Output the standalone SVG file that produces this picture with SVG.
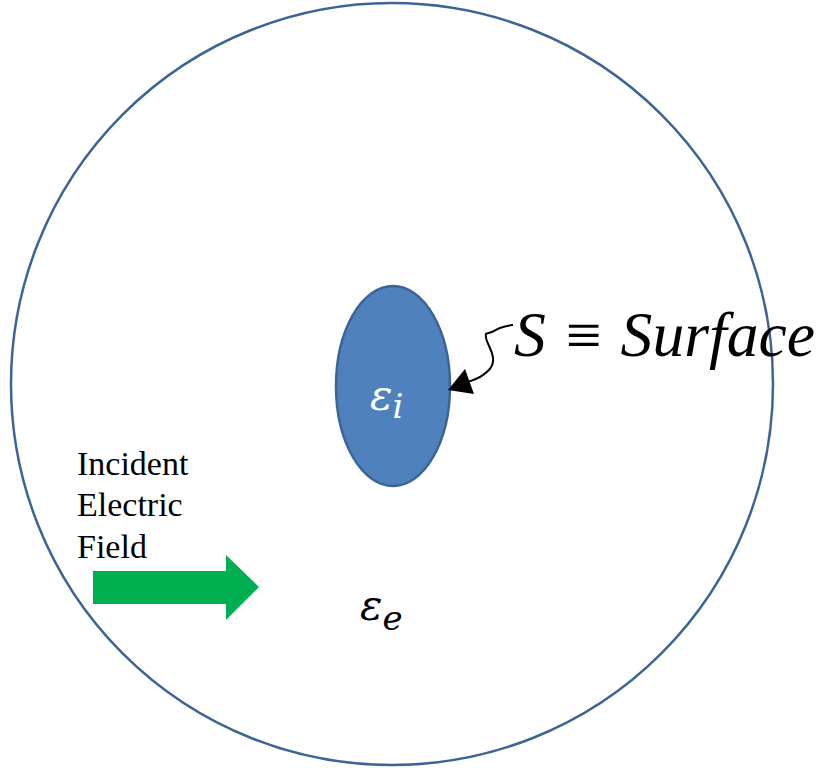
<svg xmlns="http://www.w3.org/2000/svg" width="823" height="769" viewBox="0 0 823 769">
<style>
.serif{font-family:"Liberation Serif","Times New Roman",serif;fill:#000}
.math{font-family:"DejaVu Serif","Liberation Serif",serif;font-style:italic}
</style>
<rect width="823" height="769" fill="#fff"/>
<g id="outer">
<circle cx="392" cy="384" r="381" fill="none" stroke="#3C6496" stroke-width="2.5"/>
<text class="math" x="360" y="620" font-size="42" fill="#000">ε<tspan font-size="34" dy="10">e</tspan></text>
</g>
<g id="inner">
<ellipse cx="393" cy="386" rx="57" ry="100" fill="#4F81BD" stroke="#3C6496" stroke-width="2.5"/>
<text class="math" x="370" y="410" font-size="42" fill="#fff">ε<tspan font-size="34" dy="8">i</tspan></text>
</g>
<g id="label">
<text class="serif" x="514" y="356" font-size="63" font-style="italic" textLength="301" lengthAdjust="spacingAndGlyphs">S ≡ Surface</text>
</g>
<g id="field">
<text class="serif" font-size="34"><tspan x="77" y="475">Incident</tspan><tspan x="77" y="516">Electric</tspan><tspan x="77" y="558">Field</tspan></text>
<path d="M93,571 H226 V555 L259,587 L226,620 V604 H93 z" fill="#00B050"/>
</g>
<g id="connectors">
<path d="M513,325 C505,326 498,328 494,331 C490,333 485,334 486,334 C484,340 492,348 493,358 C494,368 486,373 480,377 C474,380 470,381 466,383" fill="none" stroke="#000" stroke-width="2"/>
<path d="M448,390 L465,369 L474,394 z" fill="#000"/>
</g>
</svg>
